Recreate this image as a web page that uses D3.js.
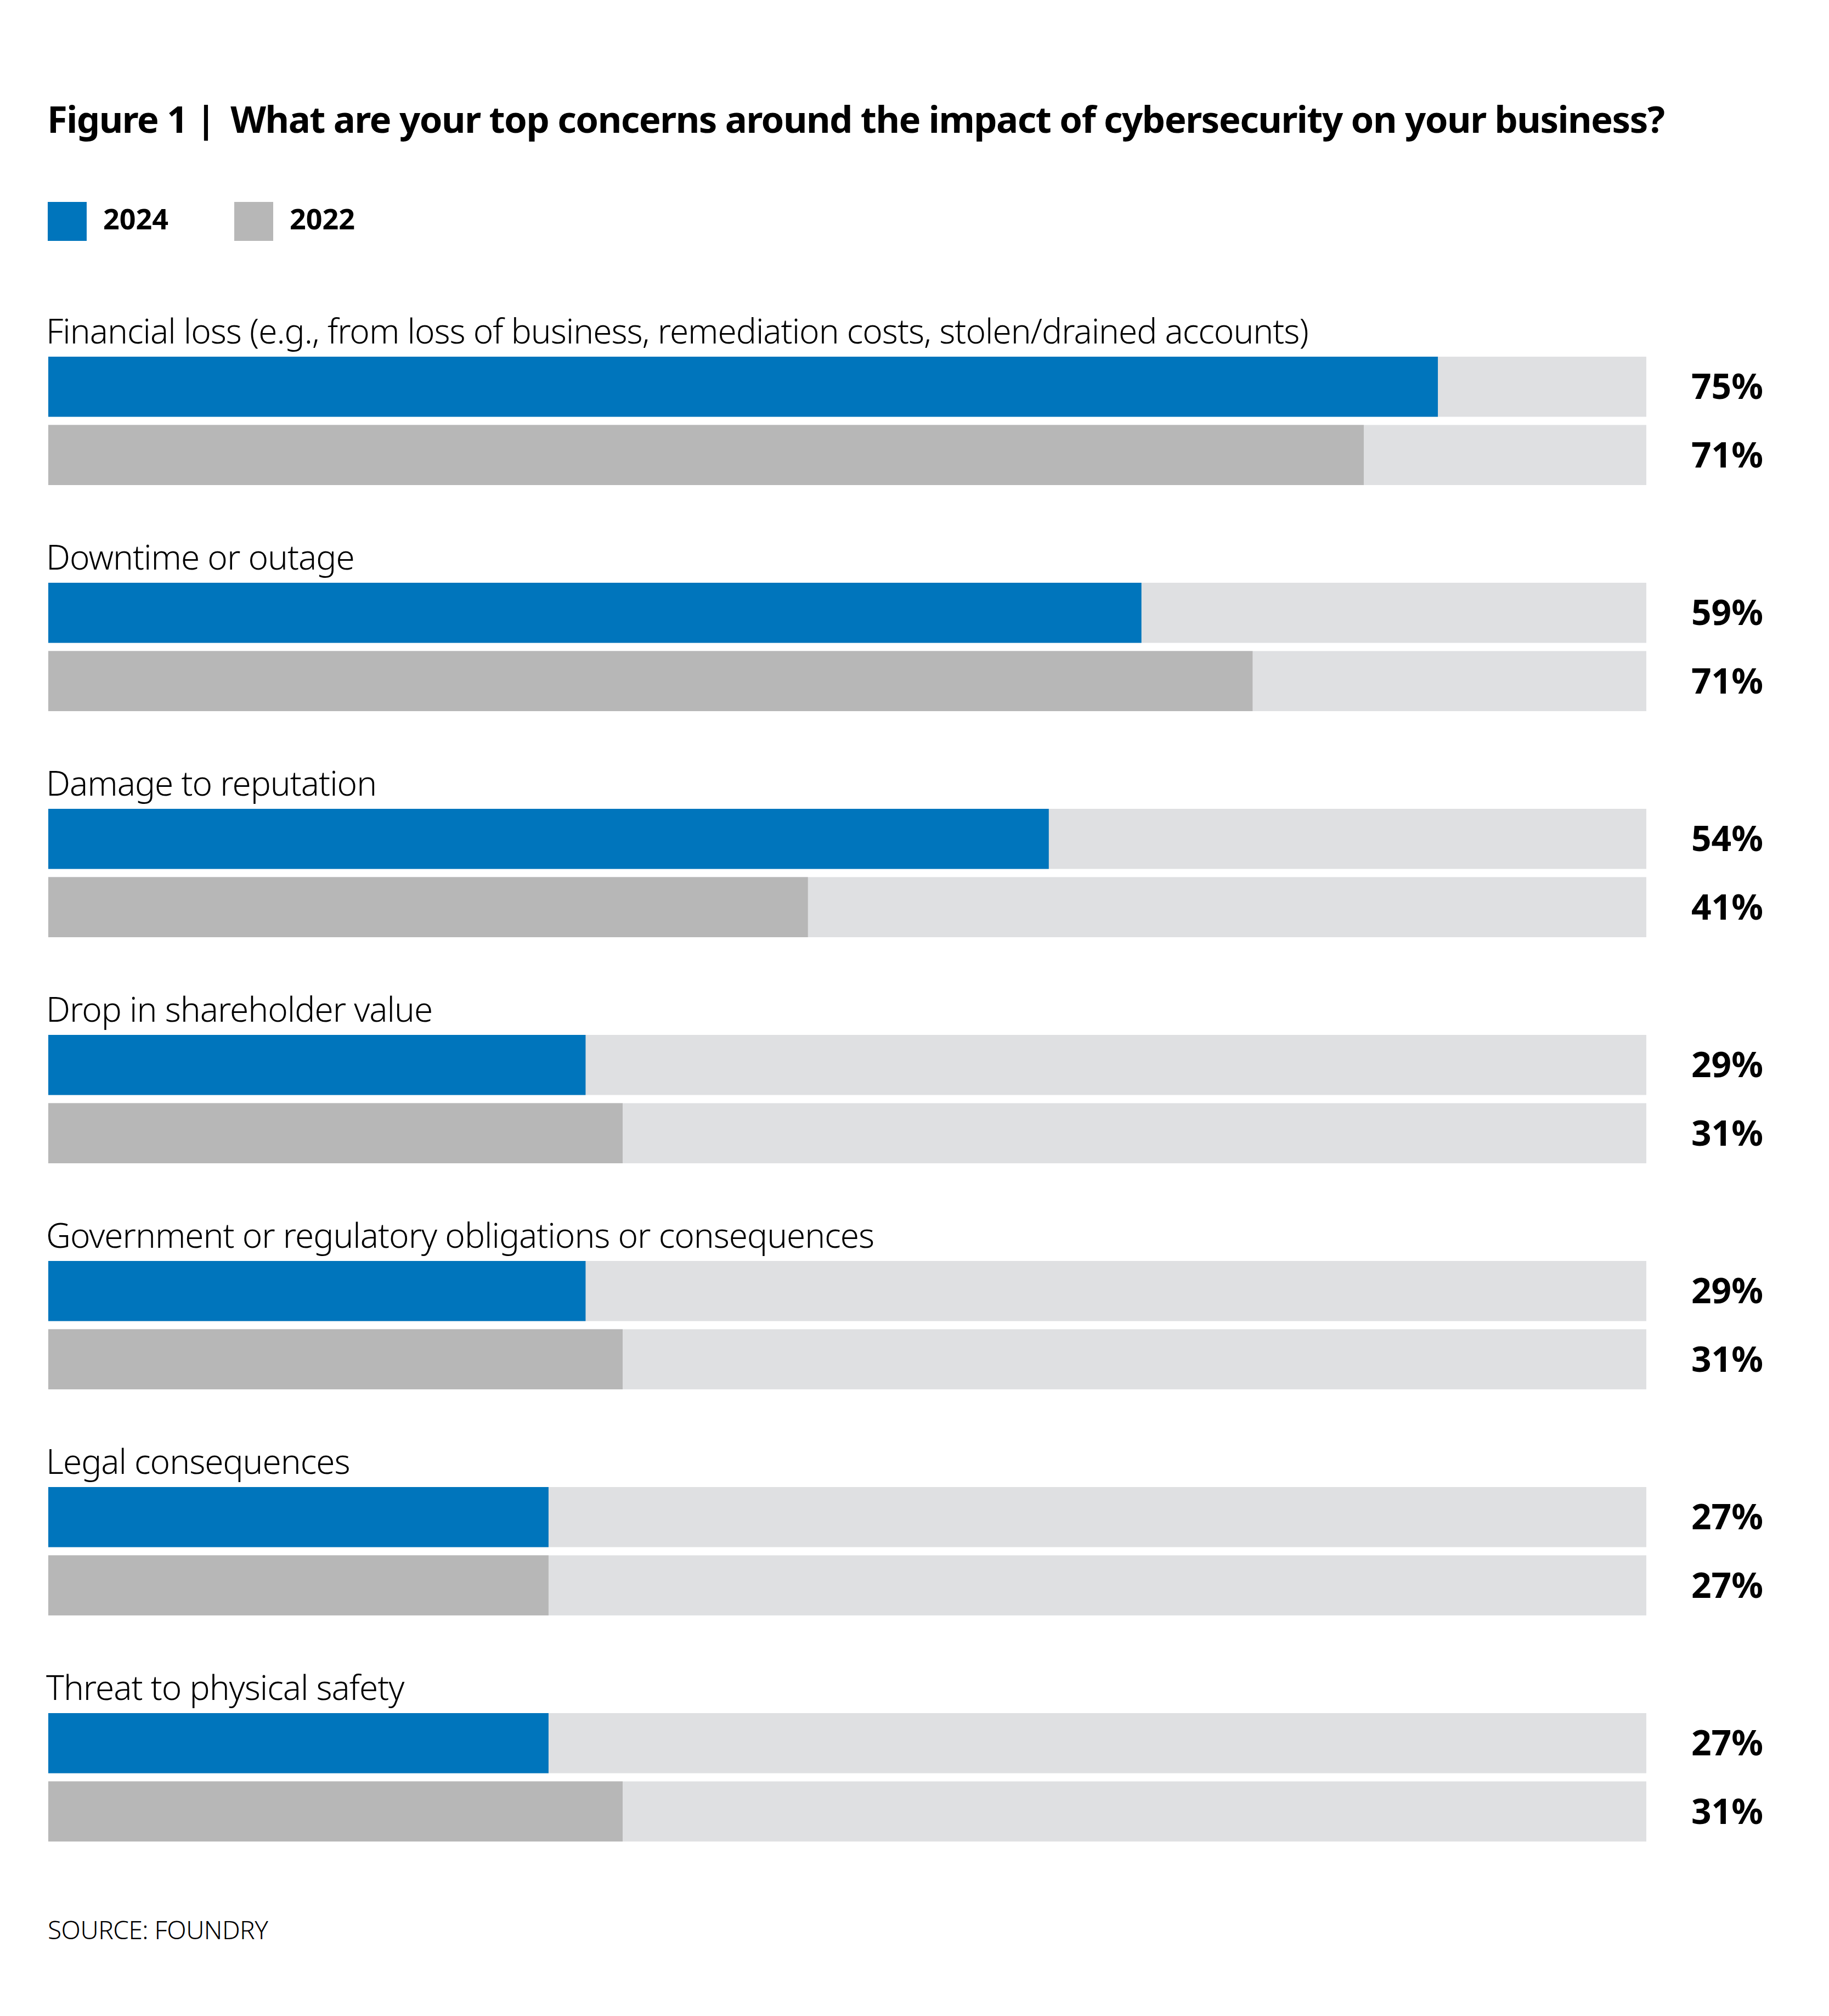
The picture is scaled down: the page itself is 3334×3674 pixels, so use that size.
<!DOCTYPE html>
<html>
<head>
<meta charset="utf-8">
<script src="https://cdn.jsdelivr.net/npm/d3@7"></script>
<style>
  html, body { margin: 0; padding: 0; background: #ffffff; }
  svg { display: block; }
</style>
</head>
<body>
<script>
// ---------- data ----------
const categories = [
  "Financial loss (e.g., from loss of business, remediation costs, stolen/drained accounts)",
  "Downtime or outage",
  "Damage to reputation",
  "Drop in shareholder value",
  "Government or regulatory obligations or consequences",
  "Legal consequences",
  "Threat to physical safety"
];
const series = ["2024", "2022"];
// bar lengths as drawn in the picture
const values2024 = [75, 59, 54, 29, 29, 27, 27];
const values2022 = [71, 65, 41, 31, 31, 27, 31];
// printed value labels
const labels2024 = ["75%", "59%", "54%", "29%", "29%", "27%", "27%"];
const labels2022 = ["71%", "71%", "41%", "31%", "31%", "27%", "31%"];
const titleLead = "Figure 1 | ";
const titleMain = "What are your top concerns around the impact of cybersecurity on your business?";
const sourceText = "SOURCE: FOUNDRY";

// ---------- layout ----------
const W = 3334, H = 3674;
const colors = { "2024": "#0075bc", "2022": "#b7b7b7" };
const trackColor = "#dfe0e2";
const FONT = "'Noto Sans', 'Open Sans', sans-serif";

const svg = d3.select("body").append("svg")
  .attr("width", W).attr("height", H)
  .attr("viewBox", `0 0 ${W} ${H}`);

svg.append("rect").attr("width", W).attr("height", H).attr("fill", "#fff");

// title
const title = svg.append("text")
  .attr("x", 86).attr("y", 242)
  .attr("font-family", FONT).attr("font-weight", 700)
  .attr("font-size", 67)
  .attr("letter-spacing", -1.5)
  .attr("fill", "#000");
title.append("tspan").text(titleLead);
title.append("tspan").attr("dx", 12).text(titleMain);

// legend
const legendX = d3.scalePoint().domain(series).range([87, 427]);
const lg = svg.append("g").selectAll("g").data(series).join("g")
  .attr("transform", d => `translate(${legendX(d)},368)`);
lg.append("rect").attr("width", 71).attr("height", 71).attr("fill", d => colors[d]);
lg.append("text")
  .attr("x", 101).attr("y", 50)
  .attr("font-family", FONT).attr("font-weight", 700).attr("font-size", 52)
  .attr("fill", "#000")
  .text(d => d);

// scales
const x = d3.scaleLinear().domain([0, 86.25]).range([88, 3001]);
const yGroup = d3.scaleBand().domain(categories).range([574, 574 + 412 * categories.length]);
const ySeries = d3.scaleBand().domain(series).range([76, 76 + 234]).paddingInner(14 / 117);

const rows = categories.map((c, i) => ({
  cat: c,
  bars: [
    { s: "2024", v: values2024[i], label: labels2024[i] },
    { s: "2022", v: values2022[i], label: labels2022[i] }
  ]
}));

const groups = svg.append("g").selectAll("g").data(rows).join("g")
  .attr("transform", d => `translate(0,${yGroup(d.cat)})`);

groups.append("text")
  .attr("x", 84).attr("y", 52)
  .attr("font-family", FONT).attr("font-weight", 300).attr("font-size", 62)
  .attr("letter-spacing", -1)
  .attr("fill", "#000")
  .text(d => d.cat);

const barG = groups.selectAll("g.bar").data(d => d.bars).join("g").attr("class", "bar")
  .attr("transform", d => `translate(0,${ySeries(d.s)})`);

barG.append("rect")
  .attr("x", x(0)).attr("width", x(86.25) - x(0))
  .attr("height", ySeries.bandwidth())
  .attr("fill", trackColor);

barG.append("rect")
  .attr("x", x(0)).attr("width", d => x(d.v) - x(0))
  .attr("height", ySeries.bandwidth())
  .attr("fill", d => colors[d.s]);

barG.append("text")
  .attr("x", 3083).attr("y", ySeries.bandwidth() / 2)
  .attr("dy", "0.35em")
  .attr("font-family", FONT).attr("font-weight", 700).attr("font-size", 64)
  .attr("fill", "#000")
  .text(d => d.label);

// source
svg.append("text")
  .attr("x", 87).attr("y", 3534)
  .attr("font-family", FONT).attr("font-weight", 300).attr("font-size", 46)
  .attr("letter-spacing", -0.5)
  .attr("fill", "#000")
  .text(sourceText);
</script>
</body>
</html>
